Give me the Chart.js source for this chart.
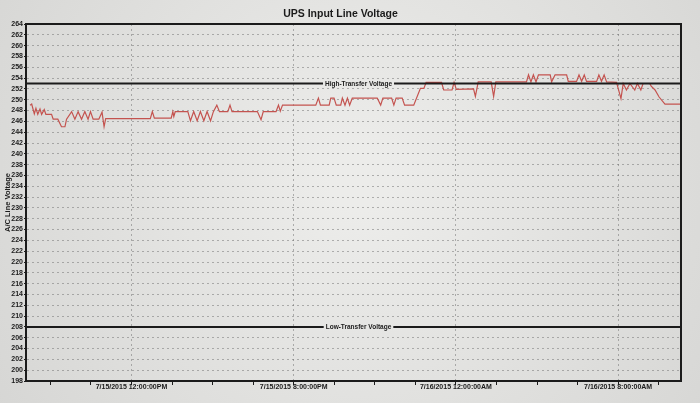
<!DOCTYPE html>
<html>
<head>
<meta charset="utf-8">
<title>UPS Input Line Voltage</title>
<script src="https://cdn.jsdelivr.net/npm/chart.js@4.4.1/dist/chart.umd.min.js"></script>
<style>
  html, body { margin: 0; padding: 0; background: #dcdcda; }
  #chart { display: block; }
</style>
</head>
<body>
<canvas id="chart" width="700" height="403"></canvas>
<script>
// =========================
// DATA
// =========================
// hours since 7/15/2015 12:00 PM, one entry per vertex of the red trace
const sampleHours = [
  -5.00, -4.92, -4.79, -4.71, -4.62, -4.51, -4.43, -4.30, -4.22, -3.94,
  -3.86, -3.63, -3.45, -3.28, -3.20, -2.95, -2.79, -2.63, -2.46, -2.30,
  -2.14, -2.02, -1.89, -1.61, -1.45, -1.35, -1.27, 0.93, 1.03, 1.13,
  1.96, 2.04, 2.09, 2.16, 2.78, 2.91, 3.07, 3.24, 3.40, 3.57,
  3.73, 3.90, 4.04, 4.21, 4.34, 4.75, 4.86, 4.96, 6.21, 6.39,
  6.50, 7.13, 7.25, 7.34, 7.45, 9.09, 9.22, 9.32, 9.75, 9.83,
  9.99, 10.10, 10.32, 10.40, 10.53, 10.65, 10.76, 10.89, 12.12, 12.29,
  12.40, 12.83, 12.94, 13.05, 13.35, 13.47, 13.92, 14.25, 14.42, 14.53,
  15.29, 15.40, 15.81, 15.91, 16.02, 16.87, 16.96, 17.10, 17.74, 17.86,
  17.97, 19.48, 19.58, 19.70, 19.82, 19.95, 20.07, 20.65, 20.72, 20.89,
  21.46, 21.54, 21.95, 22.07, 22.20, 22.33, 22.44, 22.94, 23.05, 23.18,
  23.31, 23.43, 23.92, 24.14, 24.25, 24.41, 24.58, 24.82, 24.95, 25.12,
  25.23, 25.56, 25.63, 25.82, 26.02, 26.31, 27.10,
];

const lineVolts = [
  249.0, 249.2, 247.4, 248.4, 247.3, 248.3, 247.3, 248.2, 247.3, 247.3,
  246.4, 246.4, 245.0, 245.0, 246.4, 247.8, 246.4, 247.8, 246.4, 247.8,
  246.4, 247.8, 246.4, 246.4, 247.7, 245.0, 246.5, 246.5, 247.8, 246.6,
  246.6, 247.8, 246.9, 247.8, 247.8, 246.1, 247.8, 246.1, 247.8, 246.1,
  247.8, 246.1, 247.8, 249.0, 247.8, 247.8, 249.0, 247.8, 247.8, 246.3,
  247.8, 247.8, 249.0, 247.9, 249.0, 249.0, 250.3, 249.0, 249.0, 250.3,
  250.3, 249.0, 249.0, 250.3, 249.0, 250.3, 249.0, 250.3, 250.3, 249.0,
  250.3, 250.3, 249.0, 250.3, 250.3, 249.0, 249.0, 252.1, 252.1, 253.2,
  253.2, 251.8, 251.8, 253.2, 251.9, 252.0, 250.6, 253.3, 253.3, 250.6,
  253.3, 253.3, 254.6, 253.3, 254.6, 253.3, 254.6, 254.6, 253.3, 254.6,
  254.6, 253.4, 253.4, 254.6, 253.4, 254.6, 253.4, 253.4, 254.6, 253.4,
  254.6, 253.3, 253.2, 250.2, 253.0, 251.8, 253.0, 251.8, 253.0, 251.8,
  253.0, 253.0, 252.5, 251.8, 250.5, 249.2, 249.2,
];

const highTransferVolts = 253;
const lowTransferVolts = 208;
const highTransferLabel = 'High-Transfer Voltage';
const lowTransferLabel = 'Low-Transfer Voltage';

const hourMin = -5.2;
const hourMax = 27.1;
const xTickHours = [-4, -2, 0, 2, 4, 6, 8, 10, 12, 14, 16, 18, 20, 22, 24, 26];
const majorHours = [0, 8, 16, 24];
const majorLabels = [
  '7/15/2015 12:00:00PM',
  '7/15/2015 8:00:00PM',
  '7/16/2015 12:00:00AM',
  '7/16/2015 8:00:00AM',
];

const voltMin = 198;
const voltMax = 264;
const voltStep = 2;

// =========================
// STYLE
// =========================
const FONT = 'Arial, "Liberation Sans", sans-serif';
const INK = '#1b1b1b';
const TRACE = '#c4534f';
const GRID = 'rgba(110,110,110,0.5)';

// =========================
// PLUGINS
// =========================
const paper = {
  id: 'paper',
  beforeDraw(chart) {
    const { ctx, width, height } = chart;
    const g = ctx.createRadialGradient(360, 180, 30, 360, 180, 470);
    g.addColorStop(0, '#ececea');
    g.addColorStop(1, '#d4d4d2');
    chart.$paperFill = g;
    ctx.save();
    ctx.fillStyle = g;
    ctx.fillRect(0, 0, width, height);
    ctx.restore();
  },
};

const frame = {
  id: 'frame',
  afterDatasetsDraw(chart) {
    const { ctx, chartArea: a } = chart;
    ctx.save();
    ctx.setLineDash([]);
    ctx.strokeStyle = INK;
    ctx.lineWidth = 2;
    ctx.strokeRect(a.left, a.top, a.right - a.left, a.bottom - a.top);
    ctx.restore();
  },
};

const transferLabels = {
  id: 'transferLabels',
  afterDatasetsDraw(chart) {
    const { ctx, chartArea, scales } = chart;
    const cx = (chartArea.left + chartArea.right) / 2 + 5;
    ctx.save();
    ctx.font = `bold 6.5px ${FONT}`;
    ctx.textAlign = 'center';
    ctx.textBaseline = 'middle';
    [
      [highTransferVolts, highTransferLabel],
      [lowTransferVolts, lowTransferLabel],
    ].forEach(([v, text]) => {
      const y = scales.y.getPixelForValue(v);
      const w = ctx.measureText(text).width + 4;
      ctx.fillStyle = chart.$paperFill || '#e6e6e4';
      ctx.fillRect(cx - w / 2, y - 2.5, w, 5);
      ctx.fillStyle = INK;
      ctx.fillText(text, cx, y + 0.5);
    });
    ctx.restore();
  },
};

// =========================
// CHART
// =========================
const flatLine = (v) => [
  { x: hourMin, y: v },
  { x: hourMax, y: v },
];

new Chart(document.getElementById('chart'), {
  type: 'line',
  data: {
    datasets: [
      {
        label: highTransferLabel,
        data: flatLine(highTransferVolts),
        borderColor: INK,
        borderWidth: 2,
        pointRadius: 0,
      },
      {
        label: lowTransferLabel,
        data: flatLine(lowTransferVolts),
        borderColor: INK,
        borderWidth: 2,
        pointRadius: 0,
      },
      {
        label: 'Input Line Voltage',
        data: sampleHours.map((h, i) => ({ x: h, y: lineVolts[i] })),
        borderColor: TRACE,
        borderWidth: 1.2,
        pointRadius: 0,
        tension: 0,
      },
    ],
  },
  options: {
    responsive: false,
    animation: false,
    layout: { padding: { top: 0, right: 19, bottom: 0, left: 0 } },
    plugins: {
      legend: { display: false },
      tooltip: { enabled: false },
      title: {
        display: true,
        text: 'UPS Input Line Voltage',
        color: INK,
        font: { family: FONT, size: 10.5, weight: 'bold' },
        padding: { top: 8, bottom: 3.4 },
      },
    },
    scales: {
      x: {
        type: 'linear',
        min: hourMin,
        max: hourMax,
        afterBuildTicks: (scale) => {
          scale.ticks = xTickHours.map((value) => ({ value }));
        },
        afterFit: (scale) => {
          scale.height = 22;
        },
        ticks: {
          autoSkip: false,
          maxRotation: 0,
          padding: -2,
          color: INK,
          font: { family: FONT, size: 7, weight: 'bold' },
          callback: (value) => {
            const i = majorHours.indexOf(value);
            return i === -1 ? '' : majorLabels[i];
          },
        },
        grid: {
          color: (ctx) => (ctx.tick && majorHours.includes(ctx.tick.value) ? GRID : 'rgba(0,0,0,0)'),
          lineWidth: 1,
          tickColor: INK,
          tickLength: 4,
          tickWidth: 1,
          tickBorderDash: [],
        },
        border: { display: true, color: INK, width: 2, dash: [2, 3] },
      },
      y: {
        min: voltMin,
        max: voltMax,
        afterFit: (scale) => {
          scale.width = 26;
        },
        ticks: {
          stepSize: voltStep,
          autoSkip: false,
          padding: 1,
          color: INK,
          font: { family: FONT, size: 7, weight: 'bold' },
        },
        grid: {
          color: GRID,
          lineWidth: 1,
          tickColor: INK,
          tickLength: 2,
          tickWidth: 1,
          tickBorderDash: [],
        },
        border: { display: true, color: INK, width: 2, dash: [2, 3] },
        title: {
          display: true,
          text: 'A/C Line Voltage',
          color: INK,
          font: { family: FONT, size: 7.5, weight: 'bold' },
          padding: { top: 3, bottom: 0 },
        },
      },
    },
  },
  plugins: [paper, frame, transferLabels],
});
</script>
</body>
</html>
